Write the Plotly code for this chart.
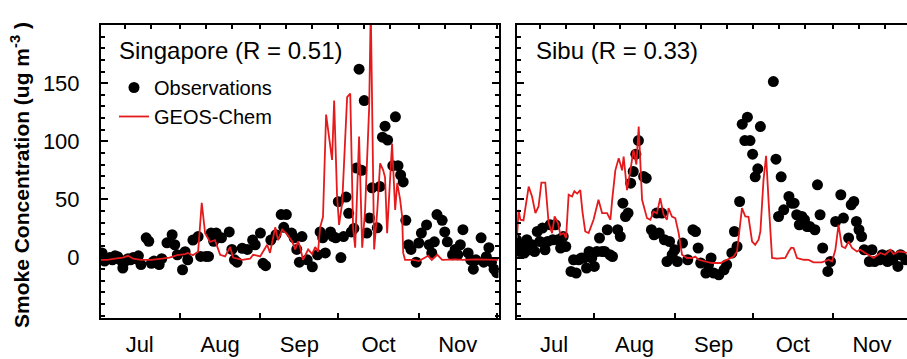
import plotly.graph_objects as go

# ---------------- data (x = days since 1 July) ----------------
month_labels = ["Jul", "Aug", "Sep", "Oct", "Nov"]
month_label_day = [15.5, 46.5, 77, 107.5, 138]
month_start_day = [0, 31, 62, 92, 123, 153]
top_tick_day = [0, 10, 20, 31, 41, 51, 62, 72, 82, 92, 102, 112, 123, 133, 143, 153]
y_tick_vals = [0, 50, 100, 150]

sg_obs_day = [1, 2, 3, 4, 5, 6, 7, 8, 9, 10, 11, 12, 13, 14, 15, 16, 18, 19, 20, 21, 23, 24, 26, 28, 29, 30,
              32, 33, 34, 36, 38, 39, 41, 42, 43, 44, 45, 47, 50, 51, 52, 53, 55, 57, 59, 60, 62, 63, 64,
              66, 68, 70, 71, 72, 74, 75, 76, 77, 78, 80, 82, 84, 85, 86, 87, 89, 90, 91, 92, 93, 94, 95,
              96, 97, 98, 99, 100, 101, 102, 103, 104, 105, 107, 108, 109, 110, 111, 113, 114, 115, 116,
              117, 118, 119, 120, 122, 123, 124, 126, 127, 128, 129, 130, 132, 133, 134, 136, 137, 138,
              139, 140, 142, 143, 144, 145, 147, 148, 149, 150, 151, 152, 153]
sg_obs_val = [4, -3, -1, 0, -2, 1.5, 0.7, -2, -9, -3, -1, -2, 0, -1, 1.5, -6, 17, 14, -5, -3, -6, -1, 12.7, 19.6, 11, 2.4,
              -10.5, 5, -2, 15, 18, 1, 1, 1, 21, 14, 21, 17, 22, 7, -2, -4, 8, 7, 15, 11, 21, -5, -7,
              15, 19.6, 37, 26, 37, 21, 17, 7, -4, 18, -2, -8, 2.4, 22, 17, 4, 22, 18, 17, 48, 0, 18, 52,
              38, 22, 25, 77, 162, 75, 135, 21, 34, 60, 25.6, 61, 103.5, 113, 101, 79, 121, 79, 71,
              65, 32, 11, 7, -4, 12.5, 21, 28, 11, 4, 13.5, 37, 32, 22, 13.5, 2.4, 7, 2.4,
              11, 24, 4, -2, -10, -2, 17, -4, 0.7, 8.5, -4, -10, -13]

sg_model_day = [0.6, 3, 6, 9, 11, 13, 16, 20, 24, 27, 30, 33, 34, 36, 38, 39.4, 40.7, 42.6, 44.5, 46.5, 48.4,
                50.3, 51.5, 55, 58, 59.2, 61.9, 64.6, 65.7, 67.7, 68.8, 70.4, 72.3, 74.2, 75.4, 76.5, 77.3,
                78.4, 80.4, 81.9, 83.1, 84.2, 85, 86.1, 87.3, 89.6, 90.4, 91.5, 92.3, 93.5, 95.4, 96.6,
                97.7, 98.5, 100, 101.2, 102.3, 103.9, 104.5, 105.8, 107, 108.1, 109.3, 110, 110.8, 112,
                112.7, 113.9, 114.7, 115.8, 116.6, 117, 117.7, 121, 123, 126.6, 128, 130.1, 132, 137,
                140, 145, 150, 153.7]
sg_model_val = [-2, -2, -1, 0, 1.5, -1, -2, -2, -1, 0, 2, 3, 4, 2, 5, 47, 21, 13.5, 15, 2.4, 1,
                9, 0, -2, -1, 2.4, 1, 11, 4, 26, 15, 24, 20, 14, 7, 14, 9,
                -2, 7, 3, 9, 5, 26, 35, 123, 84, 135, 54, 28, 47, 138, 141,
                25, 8.5, 104, 8.5, 40, 130, 215, 7, 40, 81, 75, 69, 21, 67,
                98, 41, 64, 50, 35, 4, -2, -2, -3, 1.5, -2, 2.4, -2, -1.5,
                -2, -1.5, -2, -2]

sibu_obs_day = [1, 2, 3, 4, 5, 6, 7, 8, 9, 10, 11, 12, 13, 14, 15, 16, 17, 18, 19, 20, 22, 23, 24, 25, 26,
                27, 28, 29, 30, 31, 32, 33, 34, 35, 36, 37, 38, 40, 41, 42, 43, 44, 45, 46, 47, 48, 50,
                51, 53, 54, 55, 56, 57, 58, 59, 60, 61, 62, 63, 65, 67, 69, 70, 71, 72, 74, 75, 76, 77,
                79, 81, 82, 84, 85, 86, 87, 88, 89, 90, 91, 92, 93, 94, 95, 100, 101, 102, 103, 104, 106,
                107, 108, 109, 110, 111, 112, 113, 114, 116, 117, 118, 119, 121, 122, 124, 126, 127, 129,
                130, 131, 132, 133, 134, 135, 137, 138, 139, 141, 142, 144, 145, 146, 148, 149, 151]
sibu_obs_val = [15.3, 5.2, 11, 3.9, 15.3, 6.7, 11, 5.2, 22.4, 13.8, 25.3, 6.7, 13.8, 28.2, 15.3, 28.2, 15.3, 8.2,
                18.1, 9.5, -11.9, -1.9, -13.3, -1.9, -0.4, -0.4, -9, 5.2, -0.4, -7.6, 5.2, 16.8, 5.2, 5.2,
                23.9, 2.4, 0.9, 23.9, 18.1, 46.8, 35.3, 38.2, 64, 74, 88.9, 100.6, 69.7, 68.3, 23.9, 19.6,
                38.2, 21, 38.2, 15.3, -3.4, 13.8, 2.4, 6.7, -3.4, 12.4, -1.9, 23.9, 22.4, 8.2, -4.7, -13.3,
                -6.2, -0.4, -13.3, -14.8, -10.5, -6.2, 3.9, 22.4, 9.5, 48.2, 114.7, 100.6, 120.7, 100.6,
                88.9, 69.4, 76.3, 112.6, 151.3, 84.6, 35.3, 69.4, 41, 52.5, 46.8, 46.8, 36.8, 28.2, 35.3,
                32.5, 26.7, 26.7, 23.9, 62.5, 36.8, 8.2, -11.9, -3.4, 31, 54, 33.9, 16.8, 45.4, 48.2, 31,
                23.9, 18.1, 6.7, -3.4, 6.7, -3.4, -1.9, 2.4, -3.4, 2.4, -1.9, -7.6, 2.4, -1.9]

sibu_model_day = [1.2, 1.8, 2.5, 3.7, 5.7, 7, 8.3, 9.5, 10.6, 12.1, 13.4, 14.7, 15.7, 17, 17.9, 19.2, 20.1,
                  21.1, 22.4, 23.3, 24.4, 25.6, 26.4, 27.5, 28.8, 30.7, 32.6, 34, 35.9, 37.2, 37.9, 39.1,
                  40.4, 41.7, 42.3, 43.6, 44.9, 46.1, 47.2, 48.1, 49.4, 51.3, 52.6, 53.8, 55.1, 56.4, 57.7,
                  59, 59.6, 60.9, 62.2, 63.5, 64.8, 66.7, 68.6, 69.9, 71.2, 73.8, 76.3, 79.6, 82.1, 84.7,
                  86, 87.9, 89.2, 90.4, 91.8, 93, 94.3, 95, 96.2, 97.2, 98.2, 99.5, 101.4, 104.6, 105.9,
                  106.9, 107.8, 109.1, 111.7, 113.6, 115.5, 118.7, 121.3, 122.6, 123.9, 125.1, 126.4,
                  127.7, 129, 130.3, 132.2, 133.5, 135.4, 136.7, 138.6, 141.2, 143.1, 145.1, 146.3, 148.3,
                  149.6, 151.5]
sibu_model_val = [16.8, 41, 32.5, 32, 61, 52.5, 38.2, 43.9, 64.5, 64.5, 29.6, 21, 35.3, 29.6, 19.6, 21, 16.8,
                  54, 52.5, 57, 55, 58, 40, 22.4, 21, 32.5, 49.7, 38.2, 38.2, 32.5, 50, 75,
                  85.5, 75, 86.9, 58, 75, 92.6, 80, 112.6, 49.7, 33.9, 32.5, 39.6, 38, 51, 36.8,
                  32.5, 42.5, 35.3, 33.9, 21, 2.4, -0.4, -0.4, 0.9, -1.9, -3.4, -4.7, -4.7, -1.9, 0.9,
                  5.2, 42.5, 35.3, 35, 13.8, 11, 15.3, 22.4, 66.8, 87.5, 46.8, -0.4, -1, -0.4, 5.2,
                  8.5, 8.2, -0.4, -1.9, -2, -4.2, -4.2, -1.9, -3.4, 6.7, 28.2, 9.5,
                  8.2, 13.8, 8.2, 5.2, 6.7, 3.9, 2.4, -0.4, 3.9, 2.4, 6.7, 3, 5.2,
                  5, 4]

# ---------------- styling ----------------
W, H = 907, 359
FONT = "Liberation Sans, Arial, sans-serif"
RED = "#e41a1c"
DOT = "black"

fig = go.Figure()

fig.add_trace(go.Scatter(x=sg_obs_day, y=sg_obs_val, mode="markers", name="Observations",
                         marker=dict(color=DOT, size=11), xaxis="x", yaxis="y"))
fig.add_trace(go.Scatter(x=sg_model_day, y=sg_model_val, mode="lines", name="GEOS-Chem",
                         line=dict(color=RED, width=1.8), xaxis="x", yaxis="y"))
fig.add_trace(go.Scatter(x=sibu_obs_day, y=sibu_obs_val, mode="markers", showlegend=False,
                         marker=dict(color=DOT, size=11), xaxis="x2", yaxis="y2"))
fig.add_trace(go.Scatter(x=sibu_model_day, y=sibu_model_val, mode="lines", showlegend=False,
                         line=dict(color=RED, width=1.8), xaxis="x2", yaxis="y2"))
# empty traces to register the top tick axes
fig.add_trace(go.Scatter(x=[], y=[], xaxis="x3", yaxis="y", showlegend=False))
fig.add_trace(go.Scatter(x=[], y=[], xaxis="x4", yaxis="y2", showlegend=False))

dom1 = [101 / W, 498.5 / W]
dom2 = [517 / W, 1.0]
r1 = [0.6, 153.7]
r2 = [1.2, 151.5]
yr = [-52, 200]

def xbottom(domain, rng, anchor):
    return dict(domain=domain, range=rng, anchor=anchor, showgrid=False, zeroline=False,
                automargin=False,
                showline=True, linecolor="black", linewidth=2, mirror=True,
                tickmode="array", tickvals=month_label_day, ticktext=month_labels, ticks="",
                tickfont=dict(family=FONT, size=22, color="black"), ticklabelstandoff=6,
                minor=dict(tickmode="array", tickvals=month_start_day, ticks="inside", ticklen=5,
                           tickwidth=2, tickcolor="black"))

def xtop(over, rng, anchor):
    return dict(overlaying=over, side="top", range=rng, anchor=anchor, showgrid=False,
                zeroline=False, showline=False, showticklabels=False, automargin=False,
                tickmode="array", tickvals=top_tick_day, ticks="inside", ticklen=4,
                tickwidth=1.5, tickcolor="black")

def yax(anchor, labels, mirror):
    return dict(domain=[0, 1], range=yr, anchor=anchor, showgrid=False, zeroline=False,
                automargin=False,
                showline=True, linecolor="black", linewidth=2, mirror=mirror,
                tickmode="array", tickvals=y_tick_vals, ticks="inside", ticklen=7, tickwidth=1.5,
                tickcolor="black", showticklabels=labels, ticklabelstandoff=15,
                tickfont=dict(family=FONT, size=22, color="black"),
                minor=dict(dtick=10, tick0=0, ticks="inside", ticklen=4, tickwidth=1.5,
                           tickcolor="black"))

fig.update_layout(
    width=W, height=H,
    margin=dict(l=0, r=0, t=25, b=41, autoexpand=False),
    paper_bgcolor="white", plot_bgcolor="white",
    font=dict(family=FONT, color="black"),
    xaxis=xbottom(dom1, r1, "y"),
    xaxis2=xbottom(dom2, r2, "y2"),
    xaxis3=xtop("x", r1, "y"),
    xaxis4=xtop("x2", r2, "y2"),
    yaxis=yax("x", True, "ticks"),
    yaxis2=yax("x2", False, False),
    showlegend=True,
    legend=dict(x=114 / W, y=(318 - 68) / 293, xanchor="left", yanchor="top",
                xref="paper", yref="paper", bgcolor="rgba(0,0,0,0)", borderwidth=0,
                font=dict(family=FONT, size=20, color="black"), itemwidth=30, tracegroupgap=0),
    annotations=[
        dict(text="Singapore (R = 0.51)", x=117 / W, y=(318 - 50) / 293, xref="paper", yref="paper",
             xanchor="left", yanchor="middle", showarrow=False,
             font=dict(family=FONT, size=24, color="black")),
        dict(text="Sibu (R = 0.33)", x=534 / W, y=(318 - 50) / 293, xref="paper", yref="paper",
             xanchor="left", yanchor="middle", showarrow=False,
             font=dict(family=FONT, size=24, color="black")),
        dict(text="<b>Smoke Concentration (ug m<sup>-3</sup> )</b>", x=20 / W, y=(318 - 175) / 293,
             xref="paper", yref="paper", xanchor="center", yanchor="middle", textangle=-90,
             showarrow=False, font=dict(family=FONT, size=21, color="black")),
    ],
)

fig.write_html("out.html", config={"displayModeBar": False},
               post_script="document.body.style.margin='0px';")
